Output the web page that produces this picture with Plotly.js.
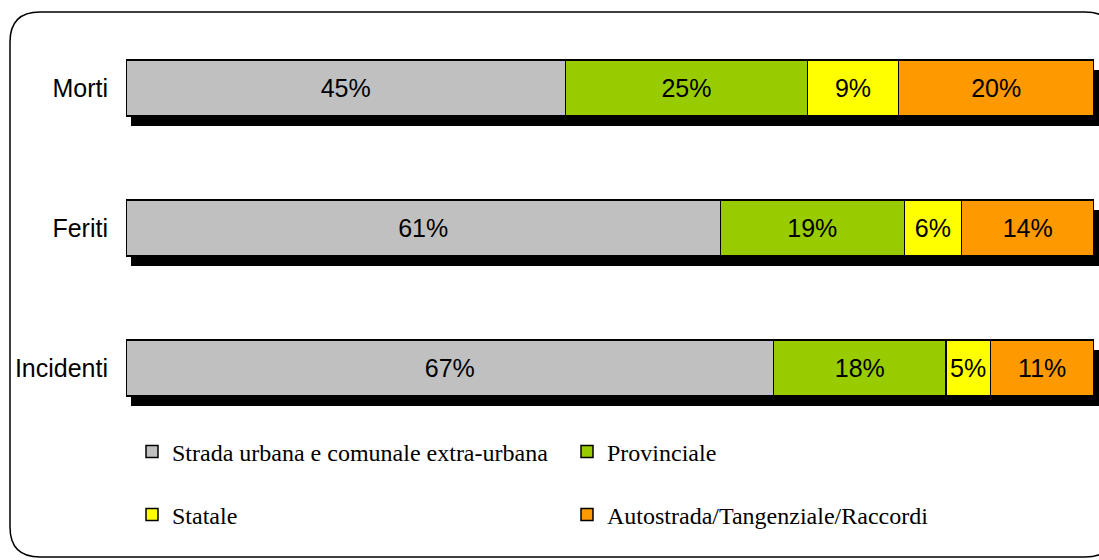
<!DOCTYPE html>
<html>
<head>
<meta charset="utf-8">
<script src="https://cdn.plot.ly/plotly-3.0.1.min.js"></script>
<style>html,body{margin:0;padding:0;background:#fff}#chart{width:1099px;height:560px}</style>
</head>
<body>
<div id="chart"></div>
<script>
const categories = ['Morti', 'Feriti', 'Incidenti'];
const seriesNames = ['Strada urbana e comunale extra-urbana', 'Provinciale', 'Statale', 'Autostrada/Tangenziale/Raccordi'];
const urbana = [45.4, 61.4, 66.9];
const provinciale = [25.0, 19.0, 17.8];
const statale = [9.4, 5.9, 4.6];
const autostrada = [20.2, 13.7, 10.7];
const colors = ['#C0C0C0', '#99CC00', '#FFFF00', '#FF9900'];

const W = 1099, H = 560;
const px = v => v / W, py = v => 1 - v / H;

const series = [urbana, provinciale, statale, autostrada];
const totals = categories.map((c, i) => series.reduce((s, arr) => s + arr[i], 0));

const sans = 'Liberation Sans, Arial, sans-serif';
const serif = 'Liberation Serif, Times New Roman, serif';

const traces = [];
// shadow
traces.push({
  type: 'bar', orientation: 'h', y: categories, x: totals,
  xaxis: 'x', yaxis: 'y', marker: {color: '#000', line: {width: 0}},
  showlegend: false, hoverinfo: 'skip', textposition: 'none'
});
series.forEach((arr, k) => {
  traces.push({
    type: 'bar', orientation: 'h', y: categories, x: arr, name: seriesNames[k],
    xaxis: 'x2', yaxis: 'y2',
    marker: {color: colors[k], line: {color: '#000', width: 1.5}},
    texttemplate: '%{x:.0f}%', textposition: 'inside', insidetextanchor: 'middle',
    textangle: 0, constraintext: 'none',
    insidetextfont: {family: sans, size: 25, color: '#000'},
    legend: k < 2 ? 'legend' : 'legend2'
  });
});

const ax = {showgrid: false, zeroline: false, showline: false, fixedrange: true};
const legendBase = {orientation: 'h', x: px(132), xanchor: 'left', yanchor: 'middle',
  entrywidth: 390, entrywidthmode: 'pixels', bgcolor: 'rgba(0,0,0,0)', traceorder: 'normal',
  font: {family: serif, size: 24, color: '#000'}};
const layout = {
  width: W, height: H,
  margin: {l: 0, r: 0, t: 0, b: 0},
  paper_bgcolor: '#fff', plot_bgcolor: 'rgba(0,0,0,0)',
  barmode: 'stack', bargap: 0.6,
  font: {family: sans, size: 25, color: '#000'},
  xaxis: Object.assign({}, ax, {domain: [px(131), px(1099)], range: [0, 100], showticklabels: false, anchor: 'y'}),
  yaxis: Object.assign({}, ax, {domain: [py(448), py(28)], type: 'category', categoryorder: 'array', categoryarray: categories, autorange: 'reversed', showticklabels: false, anchor: 'x'}),
  xaxis2: Object.assign({}, ax, {domain: [px(126), px(1094)], range: [0, 100], showticklabels: false, anchor: 'y2'}),
  yaxis2: Object.assign({}, ax, {domain: [py(438), py(18)], type: 'category', categoryorder: 'array', categoryarray: categories, autorange: 'reversed', anchor: 'x2',
    ticks: 'outside', ticklen: 0, ticklabelstandoff: 12, tickfont: {family: sans, size: 25, color: '#000'}}),
  legend: Object.assign({}, legendBase, {y: py(452)}),
  legend2: Object.assign({}, legendBase, {y: py(515)}),
  shapes: [(() => {
    const l = px(10), r = px(1115), t = py(12), b = py(557), rx = 30 / W, ry = 30 / H;
    return {type: 'path', xref: 'paper', yref: 'paper', layer: 'below',
      line: {color: '#000', width: 1.5},
      path: `M ${l + rx} ${t} L ${r - rx} ${t} Q ${r} ${t} ${r} ${t - ry} L ${r} ${b + ry} Q ${r} ${b} ${r - rx} ${b} L ${l + rx} ${b} Q ${l} ${b} ${l} ${b + ry} L ${l} ${t - ry} Q ${l} ${t} ${l + rx} ${t} Z`};
  })()]
};

Plotly.newPlot('chart', traces, layout, {displayModeBar: false, staticPlot: true});
</script>
</body>
</html>
